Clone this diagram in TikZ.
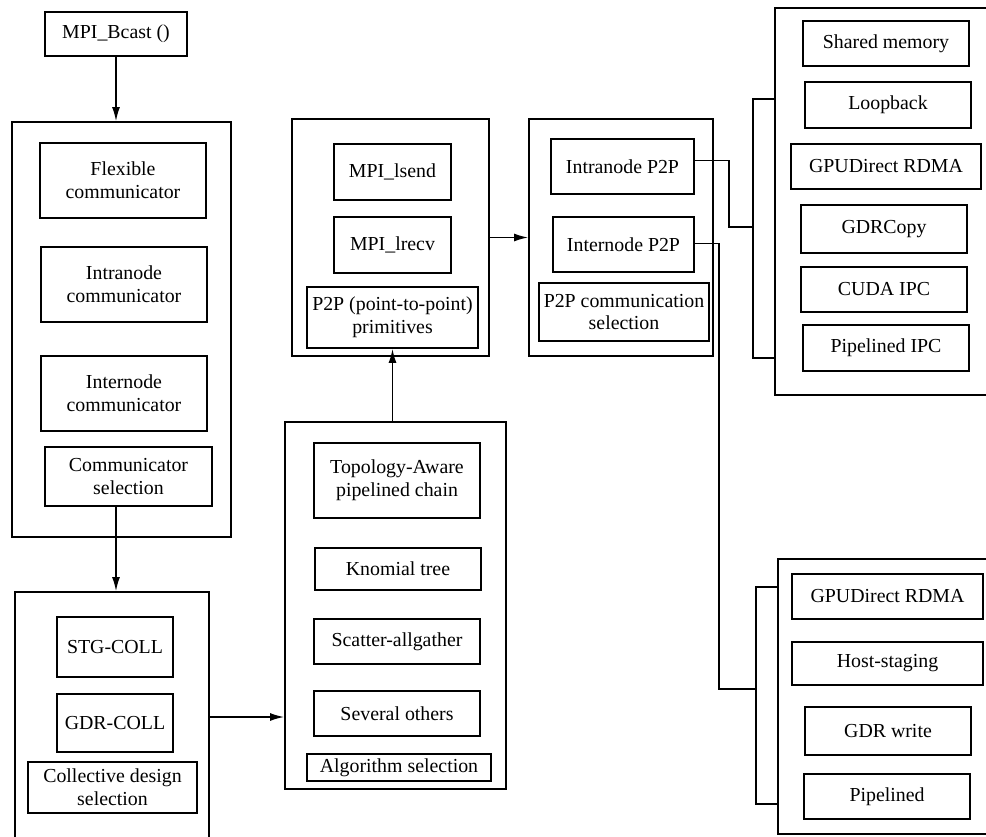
\documentclass[tikz,border=0pt]{standalone}
\usepackage{fontspec}
\setmainfont{Liberation Serif}
\usetikzlibrary{calc,arrows.meta}

\tikzset{
  blk/.style 2 args={draw, line width=0.9pt, minimum width=#1*0.02cm, minimum height=#2*0.02cm,
    inner sep=0pt, align=center, font=\fontsize{11.3}{13}\selectfont},
  conn/.style={line width=0.9pt},
  arr/.style={conn, -{Latex[length=8pt,width=4.5pt]}},
}

\begin{document}
\begin{tikzpicture}[x=0.02cm, y=-0.02cm]
			\clip (0,0) rectangle (986,837);
			%%%%% START %%%%%

			\node[blk={142}{44}] (bcast) at (116,34) {MPI\_Bcast ()};

			% communicator column
			\node[blk={219}{415}] (commout) at (121.5,329.5) {};
			\node[blk={166}{75}] (flex) at (123,180.5) {Flexible\\communicator};
			\node[blk={166}{75}] (intracomm) at (124,284.5) {Intranode\\communicator};
			\node[blk={166}{75}] (intercomm) at (124,393.5) {Internode\\communicator};
			\node[blk={167}{59}] (commsel) at (128.5,476.5) {Communicator\\selection};

			% collective designs
			\node[blk={194}{250}] (collout) at (112,717) {};
			\node[blk={116}{60}] (stg) at (115,647) {STG-COLL};
			\node[blk={116}{58}] (gdr) at (115,723) {GDR-COLL};
			\node[blk={169}{51}] (collsel) at (112.5,787.5) {Collective design\\selection};

			% p2p primitives
			\node[blk={197}{237}] (p2pout) at (390.5,237.5) {};
			\node[blk={117}{56}] (isend) at (392.5,172) {MPI\_lsend};
			\node[blk={117}{56}] (irecv) at (392.5,245) {MPI\_lrecv};
			\node[blk={171}{61}] (prim) at (392.5,317.5) {P2P (point-to-point)\\primitives};

			% algorithms
			\node[blk={221}{367}] (algout) at (395.5,605.5) {};
			\node[blk={166}{75}] (topo) at (397,480.5) {Topology-Aware\\pipelined chain};
			\node[blk={166}{42}] (knomial) at (398,569) {Knomial tree};
			\node[blk={166}{45}] (scatter) at (397,641.5) {Scatter-allgather};
			\node[blk={166}{45}] (several) at (397,713.5) {Several others};
			\node[blk={184}{27}] (algsel) at (399,767.5) {Algorithm selection};

			% p2p communication selection
			\node[blk={184}{237}] (p2pselout) at (621,237.5) {};
			\node[blk={143}{55}] (intrap2p) at (622.5,166.5) {Intranode P2P};
			\node[blk={141}{55}] (interp2p) at (623.5,244.5) {Internode P2P};
			\node[blk={170}{58}] (p2psel) at (624,312) {P2P communication\\selection};

			% intranode paths
			\node[blk={225}{387}] (intraout) at (887.5,201.5) {};
			\node[blk={166}{45}] (shm) at (886,43.5) {Shared memory};
			\node[blk={166}{46}] (loop) at (888,105) {Loopback};
			\node[blk={190}{45}] (gdrdmaA) at (886,166.5) {GPUDirect RDMA};
			\node[blk={166}{48}] (gdrcopy) at (884,229) {GDRCopy};
			\node[blk={166}{45}] (cudaipc) at (884,289.5) {CUDA IPC};
			\node[blk={166}{46}] (pipeipc) at (886,348) {Pipelined IPC};

			% internode paths
			\node[blk={222}{275}] (interout) at (889,696.5) {};
			\node[blk={191}{45}] (gdrdmaB) at (887.5,596.5) {GPUDirect RDMA};
			\node[blk={191}{43}] (hoststg) at (887.5,663.5) {Host-staging};
			\node[blk={166}{48}] (gdrwrite) at (888,731) {GDR write};
			\node[blk={166}{45}] (piped) at (887,796.5) {Pipelined};

			% brackets
			\coordinate (brA) at (753,227);
			\coordinate (brB) at (756,689);
			\draw[conn] (intraout.west |- 0,99) -- (753,99) -- (753,358) -- (intraout.west |- 0,358);
			\draw[conn] (interout.west |- 0,587) -- (756,587) -- (756,804) -- (interout.west |- 0,804);

			% connectors
			\draw[arr] (bcast.south) -- (bcast.south |- commout.north);
			\draw[arr] (commsel.south -| bcast.south) -- (collout.north -| bcast.south);
			\draw[arr] (collout.east) -- (collout.east -| algout.west);
			\draw[arr] (prim.south |- algout.north) -- (prim.south);
			\draw[arr] (p2pout.east) -- (p2pout.east -| p2pselout.west);
			\draw[conn] ($(intrap2p.east)+(0,-6)$) -- ++(34,0) |- (brA);
			\draw[conn] ($(interp2p.east)+(0,-1)$) -- ++(24,0) |- (brB);

			%%%%% END %%%%%
\end{tikzpicture}
\end{document}
